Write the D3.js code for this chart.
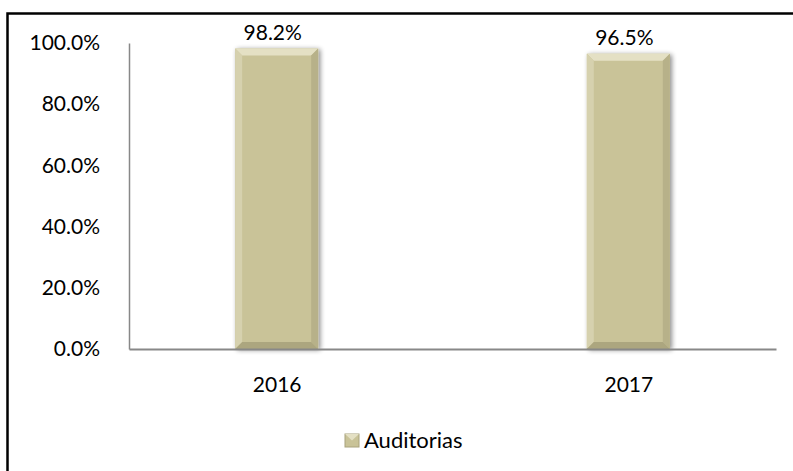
<!DOCTYPE html>
<html>
<head>
<meta charset="utf-8">
<script src="https://cdn.jsdelivr.net/npm/d3@7"></script>
<style>
  body { margin: 0; background: #fff; }
  text { font-family: Lato, "Noto Sans", sans-serif; fill: #000; }
</style>
</head>
<body>
<div id="chart"></div>
<script>
// data
let categories = ["2016", "2017"];
let values = [0.982, 0.965];
let yTicks = [0, 0.2, 0.4, 0.6, 0.8, 1.0];
let seriesName = "Auditorias";

let W = 793, H = 471;
let margin = {top: 43, right: 17, bottom: 122, left: 129};

let svg = d3.select("#chart").append("svg")
	.attr("width", W)
	.attr("height", H);

// outer frame (right/bottom fall outside the picture)
svg.append("rect")
	.attr("x", 7.5).attr("y", 13.5)
	.attr("width", 800).attr("height", 500)
	.attr("fill", "none")
	.attr("stroke", "#000")
	.attr("stroke-width", 2.5);

let x = d3.scalePoint()
	.domain(categories)
	.range([margin.left, W - margin.right])
	.padding(0.42);

let barW = x.step() * 0.236;

let y = d3.scaleLinear()
	.domain([0, 1])
	.range([H - margin.bottom, margin.top]);

let defs = svg.append("defs");
let sh = defs.append("filter").attr("id", "shadow")
	.attr("x", "-20%").attr("y", "-10%").attr("width", "140%").attr("height", "120%");
sh.append("feGaussianBlur").attr("in", "SourceAlpha").attr("stdDeviation", 2.5);
sh.append("feOffset").attr("dx", 2).attr("dy", 1).attr("result", "b");
sh.append("feComponentTransfer").append("feFuncA").attr("type", "linear").attr("slope", 0.45);
let mg = sh.append("feMerge");
mg.append("feMergeNode");
mg.append("feMergeNode").attr("in", "SourceGraphic");

// y axis
let yAxis = d3.axisLeft(y)
	.tickValues(yTicks)
	.tickFormat(d3.format(".1%"))
	.tickSize(0)
	.tickPadding(29);

let gy = svg.append("g")
	.attr("transform", "translate(" + margin.left + ",0)")
	.call(yAxis);
gy.select(".domain").attr("stroke", "#888").attr("stroke-width", 1.5);
gy.selectAll("text").style("font-size", "21px").attr("fill", "#000");

// bars with bevel
let bev = 7;
let bars = svg.selectAll(".bar")
	.data(values)
	.enter()
	.append("g")
	.attr("class", "bar")
	.attr("filter", "url(#shadow)");

bars.each(function(d, i) {
	let g = d3.select(this);
	let x0 = x(categories[i]) - barW / 2, x1 = x0 + barW;
	let y0 = y(d), y1 = y(0);
	g.append("rect")
		.attr("x", x0).attr("y", y0)
		.attr("width", barW).attr("height", y1 - y0)
		.attr("fill", "#c9c398");
	// top bevel
	g.append("path")
		.attr("d", "M" + x0 + "," + y0 + "L" + x1 + "," + y0 + "L" + (x1 - bev) + "," + (y0 + bev) + "L" + (x0 + bev) + "," + (y0 + bev) + "Z")
		.attr("fill", "#e4e0c4");
	// left bevel
	g.append("path")
		.attr("d", "M" + x0 + "," + y0 + "L" + (x0 + bev) + "," + (y0 + bev) + "L" + (x0 + bev) + "," + (y1 - bev) + "L" + x0 + "," + y1 + "Z")
		.attr("fill", "#d6d1ae");
	// right bevel
	g.append("path")
		.attr("d", "M" + x1 + "," + y0 + "L" + (x1 - bev) + "," + (y0 + bev) + "L" + (x1 - bev) + "," + (y1 - bev) + "L" + x1 + "," + y1 + "Z")
		.attr("fill", "#b7b189");
	// bottom bevel
	g.append("path")
		.attr("d", "M" + x0 + "," + y1 + "L" + (x0 + bev) + "," + (y1 - bev) + "L" + (x1 - bev) + "," + (y1 - bev) + "L" + x1 + "," + y1 + "Z")
		.attr("fill", "#aca67f");
});

// x axis
let xAxis = d3.axisBottom(x).tickSize(0).tickPadding(28);
let gx = svg.append("g")
	.attr("transform", "translate(0," + y(0) + ")")
	.call(xAxis);
gx.select(".domain").attr("stroke", "#888").attr("stroke-width", 2);
gx.selectAll("text").style("font-size", "21px").attr("fill", "#000");

// data labels
svg.selectAll(".label")
	.data(values)
	.enter()
	.append("text")
	.attr("class", "label")
	.attr("x", (d, i) => x(categories[i]) - 4)
	.attr("y", d => y(d) - 9)
	.attr("text-anchor", "middle")
	.style("font-size", "21px")
	.text(d => d3.format(".1%")(d));

// legend
let legend = svg.append("g").attr("transform", "translate(345,434)");
legend.append("rect")
	.attr("x", 0).attr("y", 0).attr("width", 14).attr("height", 13)
	.attr("fill", "#c9c398").attr("stroke", "#a8a27c");
legend.append("path")
	.attr("d", "M0,0L14,0L7,6.5Z").attr("fill", "#e4e0c4");
legend.append("text")
	.attr("x", 19).attr("y", 14)
	.style("font-size", "22px")
	.text(seriesName);
</script>
</body>
</html>
